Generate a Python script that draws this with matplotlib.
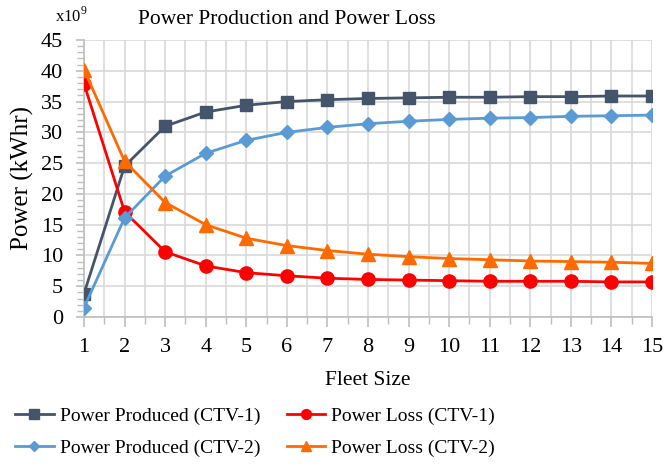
import matplotlib
matplotlib.use("Agg")
import matplotlib.pyplot as plt
from matplotlib.ticker import MultipleLocator

plt.rcParams['font.family'] = ['Liberation Serif', 'DejaVu Serif']
plt.rcParams['mathtext.fontset'] = 'custom'
plt.rcParams['mathtext.rm'] = 'Liberation Serif'

fleet = list(range(1, 16))
prod_ctv1 = [3.8, 24.5, 31.0, 33.3, 34.4, 35.0, 35.3, 35.5, 35.6, 35.7, 35.7, 35.8, 35.8, 35.9, 35.9]
prod_ctv2 = [1.5, 16.1, 22.9, 26.6, 28.7, 30.0, 30.8, 31.4, 31.8, 32.1, 32.3, 32.4, 32.6, 32.7, 32.8]
loss_ctv1 = [37.9, 17.1, 10.6, 8.3, 7.2, 6.7, 6.3, 6.1, 6.0, 5.9, 5.8, 5.8, 5.8, 5.7, 5.7]
loss_ctv2 = [40.2, 25.3, 18.6, 15.0, 12.8, 11.6, 10.8, 10.2, 9.8, 9.5, 9.3, 9.1, 9.0, 8.9, 8.7]

W, H = 665, 468
fig = plt.figure(figsize=(W / 100, H / 100), dpi=100)
ax = fig.add_axes([84 / W, 1 - 317 / H, (652 - 84) / W, (317 - 40) / H])

l1, = ax.plot(fleet, prod_ctv1, color='#44546A', marker='s', markersize=9, lw=2, label='Power Produced (CTV-1)', zorder=4)
l2, = ax.plot(fleet, loss_ctv1, color='#FF0000', marker='o', markersize=9.5, lw=2, label='Power Loss (CTV-1)', zorder=4)
l3, = ax.plot(fleet, prod_ctv2, color='#5B9BD5', marker='D', markersize=7, lw=2, label='Power Produced (CTV-2)', zorder=4)
l4, = ax.plot(fleet, loss_ctv2, color='#FF6A00', marker='^', markersize=10, lw=2, label='Power Loss (CTV-2)', zorder=4)

ax.set_xlim(1, 15)
ax.set_ylim(0, 45)
ax.xaxis.set_major_locator(MultipleLocator(1))
ax.xaxis.set_minor_locator(MultipleLocator(0.5))
ax.yaxis.set_major_locator(MultipleLocator(5))
ax.yaxis.set_minor_locator(MultipleLocator(1))
ax.grid(True, which='major', color='#D9D9D9', lw=1.2, zorder=0)
ax.grid(True, which='minor', axis='x', color='#D9D9D9', lw=1.2, zorder=0)

for s in ['top', 'right']:
    ax.spines[s].set_visible(False)
for s in ['left', 'bottom']:
    ax.spines[s].set_color('#BFBFBF')
    ax.spines[s].set_linewidth(1.2)

ax.tick_params(axis='both', which='major', labelsize=16, color='#BFBFBF', length=6, width=1.2)
ax.tick_params(axis='both', which='minor', color='#BFBFBF', length=5, width=1)
ax.tick_params(axis='x', which='major', length=7, pad=8)
ax.tick_params(axis='y', which='major', pad=9)

ax.set_xlabel('Fleet Size', fontsize=15.5, labelpad=10)
ax.set_ylabel('Power (kWhr)', fontsize=18, labelpad=5)
fig.text(287 / W, 1 - 19 / H, 'Power Production and Power Loss', fontsize=15.5, ha='center', va='center')
fig.text(55 / W, 1 - 16 / H, r'x10$^{9}$', fontsize=12, ha='left', va='center')

fig.legend(handles=[l1, l3, l2, l4], loc='center', bbox_to_anchor=(255 / W, 1 - 432 / H),
           ncol=2, frameon=False, fontsize=14, handlelength=2.0, columnspacing=1.35,
           handletextpad=0.3, labelspacing=0.75, markerscale=0.75)

fig.savefig('out.png', dpi=100)
